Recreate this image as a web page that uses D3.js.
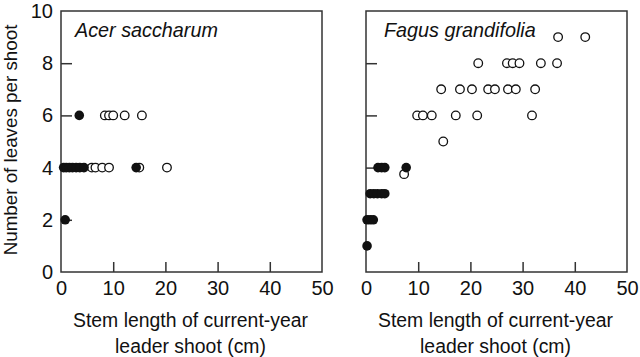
<!DOCTYPE html>
<html><head><meta charset="utf-8">
<script src="https://cdn.jsdelivr.net/npm/d3@7"></script>
<style>body{margin:0;background:#fff}svg{display:block}text{font-family:"Liberation Sans",Arial,sans-serif;fill:#111}</style>
</head><body>
<svg id="c" width="640" height="357"></svg>
<script>
const panels = ["Acer saccharum", "Fagus grandifolia"];
const xTicks = [0, 10, 20, 30, 40, 50];
const yTicks = [0, 2, 4, 6, 8, 10];
// Acer saccharum
const acerFilledX = [0.8, 3.5, 0.5, 1.0, 1.6, 2.2, 2.9, 3.6, 4.4, 14.4];
const acerFilledY = [2, 6, 4, 4, 4, 4, 4, 4, 4, 4];
const acerOpenX = [5.9, 6.6, 7.9, 9.2, 15.0, 20.3, 8.4, 9.2, 10.0, 12.2, 15.5];
const acerOpenY = [4, 4, 4, 4, 4, 4, 6, 6, 6, 6, 6];
// Fagus grandifolia
const fagusFilledX = [0.2, 0.2, 0.8, 1.4, 0.8, 1.5, 2.2, 3.0, 3.6, 2.3, 3.0, 3.6, 7.7];
const fagusFilledY = [1, 2, 2, 2, 3, 3, 3, 3, 3, 4, 4, 4, 4];
const fagusOpenX = [7.3, 14.8, 9.8, 10.9, 12.6, 17.2, 21.3, 31.8,
  14.4, 18.0, 20.3, 23.4, 24.7, 27.2, 28.7, 32.4,
  21.5, 27.0, 28.1, 29.4, 33.5, 36.6, 36.8, 42.0];
const fagusOpenY = [3.75, 5, 6, 6, 6, 6, 6, 6,
  7, 7, 7, 7, 7, 7, 7, 7,
  8, 8, 8, 8, 8, 8, 9, 9];

const data = [
  {filled: acerFilledX.map((x,i)=>[x,acerFilledY[i]]), open: acerOpenX.map((x,i)=>[x,acerOpenY[i]])},
  {filled: fagusFilledX.map((x,i)=>[x,fagusFilledY[i]]), open: fagusOpenX.map((x,i)=>[x,fagusOpenY[i]])}
];

const svg = d3.select("#c");
const lefts = [61, 366], pw = 261, plotTop = 11, plotBottom = 272;
const titleOffsets = [14, 18];
const y = d3.scaleLinear().domain([0,10]).range([plotBottom, plotTop]);
const axisColor = "#333";
const FF = "Liberation Sans, Arial, sans-serif";

panels.forEach((name, p) => {
  const x = d3.scaleLinear().domain([0,50]).range([lefts[p], lefts[p]+pw]);
  const g = svg.append("g");
  g.append("rect").attr("x", lefts[p]).attr("y", plotTop).attr("width", pw).attr("height", plotBottom-plotTop)
    .attr("fill","none").attr("stroke",axisColor).attr("stroke-width",1.5);
  const xa = g.append("g").attr("transform",`translate(0,${plotBottom})`)
    .call(d3.axisBottom(x).tickValues(xTicks).tickSizeInner(-10).tickSizeOuter(0).tickPadding(9));
  xa.select(".domain").remove();
  xa.selectAll("line").attr("stroke",axisColor).attr("stroke-width",1.5);
  xa.selectAll(".tick").filter(d=>d===0||d===50).select("line").remove();
  xa.selectAll("text").attr("font-size",20).attr("fill","#111").attr("font-family",FF);
  const ya = g.append("g").attr("transform",`translate(${lefts[p]},0)`)
    .call(d3.axisLeft(y).tickValues(yTicks).tickSizeInner(-11).tickSizeOuter(0).tickPadding(8));
  ya.select(".domain").remove();
  ya.selectAll("line").attr("stroke",axisColor).attr("stroke-width",1.5);
  ya.selectAll(".tick").filter(d=>d===0||d===10).select("line").remove();
  if (p === 0) {
    ya.selectAll("text").attr("font-size",20).attr("fill","#111").attr("font-family",FF);
  } else {
    ya.selectAll("text").remove();
  }
  g.append("text").attr("x", lefts[p]+titleOffsets[p]).attr("y", 37).attr("font-size",19.8)
    .attr("font-style","italic").text(name);
  g.selectAll("circle.o").data(data[p].open).join("circle").attr("class","o")
    .attr("cx",d=>x(d[0])).attr("cy",d=>y(d[1])).attr("r",4.3)
    .attr("fill","#fff").attr("stroke","#111").attr("stroke-width",1.3);
  g.selectAll("circle.f").data(data[p].filled).join("circle").attr("class","f")
    .attr("cx",d=>x(d[0])).attr("cy",d=>y(d[1])).attr("r",4.8)
    .attr("fill","#111");
  const lab = g.append("text").attr("text-anchor","middle").attr("font-size",19.4);
  lab.append("tspan").attr("x", lefts[p]+pw/2-1).attr("y", 327).text("Stem length of current-year");
  lab.append("tspan").attr("x", lefts[p]+pw/2-1).attr("y", 353).text("leader shoot (cm)");
});

svg.append("text").attr("transform","translate(17,140) rotate(-90)")
  .attr("text-anchor","middle").attr("font-size",18.8).text("Number of leaves per shoot");
</script>
</body></html>
